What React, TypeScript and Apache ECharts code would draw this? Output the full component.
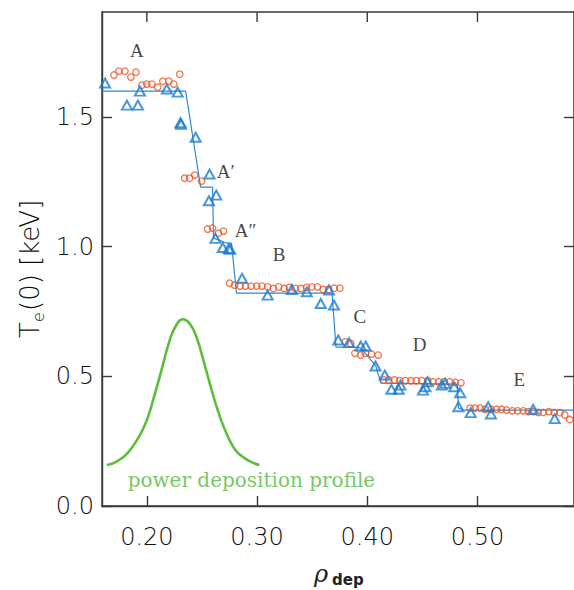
import React, { useEffect, useRef } from 'react';
import * as echarts from 'echarts';

// ---- data ----
const circleRho = [
  0.1702, 0.1747, 0.1801, 0.1855, 0.1901, 0.1955, 0.2000, 0.2045, 0.2099, 0.2145, 0.2199, 0.2244, 0.2298,
  0.2343, 0.2388, 0.2434, 0.2497,
  0.2551, 0.2596, 0.2650, 0.2696,
  0.2750, 0.2795, 0.2847, 0.2895, 0.2946, 0.2997, 0.3045, 0.3096, 0.3148, 0.3196, 0.3247, 0.3292, 0.3346, 0.3398, 0.3449, 0.3497, 0.3548, 0.3600, 0.3648, 0.3699, 0.3751,
  0.3800, 0.3850, 0.3888, 0.3940, 0.3984, 0.4039, 0.4099,
  0.4150, 0.4195, 0.4247, 0.4295, 0.4346, 0.4397, 0.4445, 0.4496, 0.4548, 0.4596, 0.4647, 0.4699, 0.4747, 0.4799, 0.4850,
  0.4933, 0.4979, 0.5024, 0.5069, 0.5124, 0.5174, 0.5219, 0.5264, 0.5316, 0.5364, 0.5415, 0.5461, 0.5506, 0.5551, 0.5596, 0.5648, 0.5696, 0.5747, 0.5792, 0.5837,
];
const circleTe = [
  1.662, 1.677, 1.677, 1.654, 1.673, 1.623, 1.627, 1.627, 1.615, 1.638, 1.638, 1.627, 1.665,
  1.264, 1.264, 1.276, 1.253,
  1.068, 1.072, 1.052, 1.060,
  0.859, 0.852, 0.848, 0.848, 0.848, 0.848, 0.848, 0.845, 0.839, 0.845, 0.839, 0.843, 0.839, 0.839, 0.843, 0.845, 0.845, 0.835, 0.835, 0.840, 0.840,
  0.633, 0.627, 0.589, 0.582, 0.589, 0.586, 0.582,
  0.486, 0.486, 0.486, 0.483, 0.483, 0.483, 0.483, 0.483, 0.483, 0.479, 0.479, 0.479, 0.479, 0.477, 0.475,
  0.377, 0.377, 0.377, 0.373, 0.373, 0.373, 0.373, 0.370, 0.367, 0.367, 0.367, 0.364, 0.364, 0.361, 0.361, 0.364, 0.361, 0.360, 0.351, 0.334,
];

const triRho = [
  0.1621, 0.1819, 0.1919, 0.1937, 0.2181, 0.2280, 0.2305, 0.2310, 0.2443,
  0.2569, 0.2563, 0.2630,
  0.2623, 0.2689, 0.2743, 0.2756,
  0.2864, 0.3096, 0.3316, 0.3452, 0.3653, 0.3578, 0.3698,
  0.3737, 0.3834, 0.3940, 0.3985, 0.4075, 0.4159,
  0.4219, 0.4285, 0.4301, 0.4505, 0.4527, 0.4547, 0.4677, 0.4707, 0.4789, 0.4843,
  0.4827, 0.4938, 0.5098, 0.5122, 0.5505, 0.5701,
];
const triTe = [
  1.631, 1.546, 1.546, 1.600, 1.608, 1.596, 1.478, 1.472, 1.422,
  1.280, 1.177, 1.199,
  1.032, 0.997, 0.993, 0.990,
  0.878, 0.813, 0.835, 0.826, 0.833, 0.781, 0.775,
  0.640, 0.630, 0.617, 0.617, 0.540, 0.505,
  0.450, 0.450, 0.466, 0.447, 0.460, 0.479, 0.466, 0.473, 0.460, 0.437,
  0.383, 0.360, 0.383, 0.355, 0.373, 0.337,
];

const stepRho = [0.1593, 0.2352, 0.2488, 0.2596, 0.2605, 0.2723, 0.2768, 0.2813, 0.3680, 0.3716, 0.3897, 0.3942, 0.4078, 0.4123, 0.4818, 0.4827, 0.4870, 0.5876];
const stepTe = [1.600, 1.600, 1.230, 1.230, 1.033, 1.014, 1.014, 0.821, 0.821, 0.613, 0.613, 0.609, 0.540, 0.474, 0.470, 0.378, 0.370, 0.370];

const profileRho = [0.1636, 0.1700, 0.1772, 0.1830, 0.1892, 0.1940, 0.1982, 0.2020, 0.2057, 0.2133, 0.2208, 0.2268, 0.2328, 0.2388, 0.2449, 0.2524, 0.2599, 0.2637, 0.2675, 0.2718, 0.2765, 0.2815, 0.2870, 0.2945, 0.3021];
const profileVal = [0.158, 0.166, 0.184, 0.207, 0.242, 0.276, 0.312, 0.356, 0.409, 0.524, 0.640, 0.698, 0.720, 0.704, 0.653, 0.545, 0.430, 0.378, 0.330, 0.284, 0.242, 0.210, 0.190, 0.170, 0.158];

const stageNames = ['A', 'A\u2032', 'A\u2033', 'B', 'C', 'D', 'E'];
const stageRho = [0.1910, 0.2715, 0.2895, 0.3200, 0.3933, 0.4475, 0.5379];
const stageTe = [1.758, 1.288, 1.064, 0.971, 0.729, 0.621, 0.486];

const captionText = ['power deposition profile'];
const captionRho = [0.2949];
const captionTe = [0.100];

const xTicks = [0.2, 0.3, 0.4, 0.5];
const yTicks = [0.0, 0.5, 1.0, 1.5];
const X_MIN = 0.1593;
const X_MAX = 0.5876;
const Y_MIN = 0;
const Y_MAX = 1.905;

const zip = (a: number[], b: number[]) => a.map((v, i) => [v, b[i]]);

export default function App() {
  const ref = useRef<HTMLDivElement>(null);

  useEffect(() => {
    if (!ref.current) return;
    const chart = echarts.init(ref.current, undefined, { renderer: 'svg' });
    const axisColor = '#3a3a3a';
    const textColor = '#111111';
    const lineStyle = { color: axisColor, width: 1.4 };
    const labelFont = { fontFamily: 'DejaVu Sans', fontSize: 24, fontWeight: 'lighter' as any, color: textColor };

    const yAxis = (pos: 'left' | 'right', withLabels: boolean) => ({
      type: 'value' as const,
      show: true,
      position: pos,
      min: Y_MIN,
      max: Y_MAX,
      splitLine: { show: false },
      axisLine: { show: true, onZero: false, lineStyle: { ...lineStyle } },
      axisTick: { show: true, inside: true, length: 10, customValues: yTicks.slice(), lineStyle: { ...lineStyle } },
      axisLabel: withLabels
        ? { ...labelFont, customValues: yTicks.slice(), margin: 8, formatter: (v: number) => v.toFixed(1) }
        : { show: false, customValues: yTicks.slice() },
    });

    const titleStyle = { fontFamily: 'DejaVu Sans', fontWeight: 'lighter', fill: textColor, verticalAlign: 'middle', align: 'left' };

    chart.setOption({
      animation: false,
      backgroundColor: '#ffffff',
      grid: { left: 102, top: 12, width: 474, height: 494, show: true, borderColor: axisColor, borderWidth: 1.4, backgroundColor: 'rgba(0,0,0,0)' },
      xAxis: [
        {
          type: 'value',
          position: 'bottom',
          min: X_MIN,
          max: X_MAX,
          splitLine: { show: false },
          axisLine: { show: true, onZero: false, lineStyle: { ...lineStyle } },
          axisTick: { show: true, inside: true, length: 10, customValues: xTicks.slice(), lineStyle: { ...lineStyle } },
          axisLabel: { ...labelFont, customValues: xTicks.slice(), margin: 19, formatter: (v: number) => v.toFixed(2) },
        },
      ],
      yAxis: [yAxis('left', true), yAxis('right', false)],
      graphic: [
        {
          type: 'group',
          x: 30,
          y: 262,
          rotation: Math.PI / 2,
          children: [
            { type: 'text', x: -76, y: 0, style: { ...titleStyle, text: 'T', fontSize: 26 } },
            { type: 'text', x: -60, y: 8, style: { ...titleStyle, text: 'e', fontSize: 16 } },
            { type: 'text', x: -49, y: 0, style: { ...titleStyle, text: '(0) [keV]', fontSize: 26 } },
          ],
        },
        { type: 'text', x: 321, y: 574, style: { text: '\u03c1', fontFamily: 'DejaVu Serif', fontStyle: 'italic', fontSize: 24, fill: '#222', align: 'center', verticalAlign: 'middle' } },
        { type: 'text', x: 332, y: 580, style: { text: 'dep', fontFamily: 'DejaVu Sans', fontWeight: 'bold', fontSize: 15, fill: '#222', align: 'left', verticalAlign: 'middle' } },
      ],
      series: [
        {
          type: 'custom',
          data: xTicks.map((v) => [v, Y_MAX]),
          clip: false,
          silent: true,
          z: 1,
          renderItem: (_params: any, api: any) => {
            const p = api.coord([api.value(0), api.value(1)]);
            return {
              type: 'line',
              shape: { x1: p[0], y1: p[1], x2: p[0], y2: p[1] + 10 },
              style: { stroke: axisColor, lineWidth: 1.4 },
            };
          },
        },
        {
          type: 'line',
          data: zip(profileRho, profileVal),
          smooth: true,
          symbol: 'none',
          lineStyle: { color: '#5cbf3c', width: 2.6 },
          z: 2,
        },
        {
          type: 'line',
          data: zip(stepRho, stepTe),
          symbol: 'none',
          lineStyle: { color: '#2c8ad8', width: 1.2 },
          z: 3,
        },
        {
          type: 'scatter',
          data: zip(circleRho, circleTe),
          symbol: 'circle',
          symbolSize: 6.5,
          itemStyle: { color: 'rgba(0,0,0,0)', borderColor: '#f0531f', borderWidth: 1.3 },
          z: 4,
        },
        {
          type: 'scatter',
          data: zip(triRho, triTe),
          symbol: 'triangle',
          symbolSize: [10, 9],
          itemStyle: { color: 'rgba(0,0,0,0)', borderColor: '#1c7cd2', borderWidth: 2 },
          z: 5,
        },
        {
          type: 'scatter',
          data: stageNames.map((n, i) => ({ name: n, value: [stageRho[i], stageTe[i]] })),
          symbolSize: 1,
          itemStyle: { color: 'rgba(0,0,0,0)' },
          label: { show: true, position: 'inside', formatter: '{b}', fontFamily: 'Liberation Serif', fontSize: 19, color: '#111' },
          z: 6,
        },
        {
          type: 'scatter',
          data: captionText.map((n, i) => ({ name: n, value: [captionRho[i], captionTe[i]] })),
          symbolSize: 1,
          itemStyle: { color: 'rgba(0,0,0,0)' },
          label: { show: true, position: 'inside', formatter: '{b}', fontFamily: 'DejaVu Serif', fontSize: 20, color: '#52b93a' },
          z: 6,
        },
        {
          type: 'scatter',
          yAxisIndex: 1,
          data: [[0.3, 1.0]],
          symbolSize: 0,
          itemStyle: { color: 'rgba(0,0,0,0)' },
          silent: true,
        },
      ],
    });
    return () => chart.dispose();
  }, []);

  return <div ref={ref} style={{ position: 'fixed', left: 0, top: 0, width: 574, height: 590 }} />;
}
